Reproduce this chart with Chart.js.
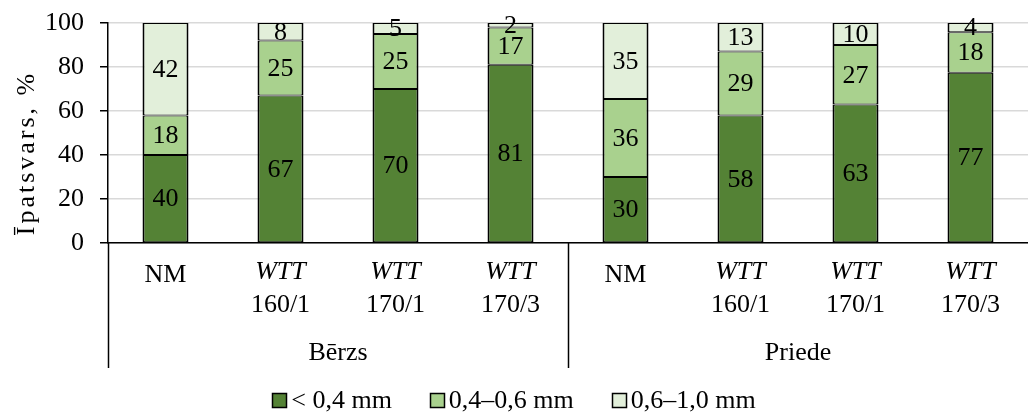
<!DOCTYPE html>
<html>
<head>
<meta charset="utf-8">
<script src="https://cdn.jsdelivr.net/npm/chart.js@4"></script>
<style>
  html, body { margin: 0; padding: 0; background: #fff; }
  #wrap { width: 1028px; height: 414px; position: relative; }
</style>
</head>
<body>
<div id="wrap"><canvas id="c" width="1028" height="414"></canvas></div>
<script>
const categories = ['NM', 'WTT 160/1', 'WTT 170/1', 'WTT 170/3', 'NM', 'WTT 160/1', 'WTT 170/1', 'WTT 170/3'];
const catLine1 = ['NM', 'WTT', 'WTT', 'WTT', 'NM', 'WTT', 'WTT', 'WTT'];
const catLine2 = ['', '160/1', '170/1', '170/3', '', '160/1', '170/1', '170/3'];
const groups = ['Bērzs', 'Priede'];
const groupSize = 4;
const seriesNames = ['< 0,4 mm', '0,4–0,6 mm', '0,6–1,0 mm'];
const fine = [40, 67, 70, 81, 30, 58, 63, 77.4];
const medium = [18, 25, 25, 17, 35.5, 29, 27, 18.4];
const coarse = [42, 8, 5, 2, 34.5, 13, 10, 4.2];
const seriesColors = ['#548235', '#A9D18E', '#E2EFDA'];
const yTicks = [0, 20, 40, 60, 80, 100];
const yTitle = 'Īpatsvars, %';

const FONT = "'Liberation Serif', 'Times New Roman', serif";
const FS = 26;

const labelPlugin = {
  id: 'customLabels',
  afterDatasetsDraw(chart) {
    const ctx = chart.ctx;
    ctx.save();
    ctx.font = FS + 'px ' + FONT;
    ctx.fillStyle = '#000';
    ctx.textAlign = 'center';
    ctx.textBaseline = 'middle';
    chart.data.datasets.forEach((ds, di) => {
      const meta = chart.getDatasetMeta(di);
      meta.data.forEach((el, i) => {
        const v = ds.data[i];
        ctx.fillText(String(Math.round(v)), el.x, (el.y + el.base) / 2 + 1);
      });
    });
    ctx.restore();
  },
  afterDraw(chart) {
    const ctx = chart.ctx;
    const xs = chart.scales.x;
    const area = chart.chartArea;
    const b = area.bottom;
    ctx.save();
    ctx.fillStyle = '#000';
    ctx.textAlign = 'center';
    ctx.textBaseline = 'middle';
    // y-axis title
    ctx.save();
    ctx.translate(27, 153);
    ctx.rotate(-Math.PI / 2);
    ctx.font = FS + 'px ' + FONT;
    if ('letterSpacing' in ctx) ctx.letterSpacing = '3px';
    ctx.fillText(yTitle, 0, 0);
    ctx.restore();
    categories.forEach((c, i) => {
      const x = xs.getPixelForValue(i);
      if (catLine2[i]) {
        ctx.font = 'italic ' + FS + 'px ' + FONT;
        ctx.fillText(catLine1[i], x, b + 29);
        ctx.font = FS + 'px ' + FONT;
        ctx.fillText(catLine2[i], x, b + 62);
      } else {
        ctx.font = FS + 'px ' + FONT;
        ctx.fillText(catLine1[i], x, b + 32);
      }
    });
    // group labels and separators
    ctx.strokeStyle = '#000';
    ctx.lineWidth = 1.5;
    const seps = [area.left];
    groups.forEach((g, gi) => {
      const first = xs.getPixelForValue(gi * groupSize);
      const last = xs.getPixelForValue(gi * groupSize + groupSize - 1);
      ctx.font = FS + 'px ' + FONT;
      ctx.fillText(g, (first + last) / 2, b + 110);
      if (gi < groups.length - 1) {
        const nxt = xs.getPixelForValue(gi * groupSize + groupSize);
        seps.push((last + nxt) / 2);
      }
    });
    seps.forEach(sx => {
      const px = Math.round(sx) + 0.5;
      ctx.beginPath();
      ctx.moveTo(px, b);
      ctx.lineTo(px, b + 125);
      ctx.stroke();
    });
    // legend
    ctx.font = FS + 'px ' + FONT;
    const box = 14, gap = 5, spacing = 38;
    const widths = seriesNames.map(n => box + gap + ctx.measureText(n).width);
    const total = widths.reduce((a, w) => a + w, 0) + spacing * (seriesNames.length - 1);
    let lx = chart.width / 2 - total / 2;
    const ly = 400;
    ctx.textAlign = 'left';
    seriesNames.forEach((n, i) => {
      const bx = Math.round(lx) + 0.5, by = Math.round(ly - box / 2) + 0.5;
      ctx.fillStyle = seriesColors[i];
      ctx.fillRect(bx, by, box, box);
      ctx.strokeStyle = '#000';
      ctx.lineWidth = 1.5;
      ctx.strokeRect(bx, by, box, box);
      ctx.fillStyle = '#000';
      ctx.fillText(n, lx + box + gap, ly + 1);
      lx += widths[i] + spacing;
    });
    ctx.restore();
  }
};

new Chart(document.getElementById('c'), {
  type: 'bar',
  data: {
    labels: categories,
    datasets: [fine, medium, coarse].map((d, i) => ({
      label: seriesNames[i],
      data: d,
      backgroundColor: seriesColors[i],
      borderColor: '#000',
      borderWidth: { top: 1, bottom: 1, left: 2, right: 2 },
      borderSkipped: false,
      categoryPercentage: 1,
      barPercentage: 0.4
    }))
  },
  options: {
    responsive: false,
    animation: false,
    layout: { padding: { top: 23, right: 0, bottom: 0, left: 0 } },
    plugins: { legend: { display: false }, tooltip: { enabled: false } },
    scales: {
      x: {
        stacked: true,
        ticks: { display: false },
        grid: { display: false },
        border: { display: true, color: '#000', width: 1.5 },
        afterFit: s => { s.height = 171; s.paddingLeft = 0; s.paddingRight = 0; }
      },
      y: {
        stacked: true,
        min: 0,
        max: 100,
        afterBuildTicks: s => { s.ticks = yTicks.map(v => ({ value: v })); },
        ticks: { color: '#000', font: { family: FONT, size: FS }, padding: 16 },
        grid: { color: '#d9d9d9', lineWidth: 1.5, tickColor: '#000', tickLength: 8 },
        border: { display: true, color: '#000', width: 1.5 },
        title: { display: false },
        afterFit: s => { s.width = 108; s.paddingTop = 0; s.paddingBottom = 0; }
      }
    }
  },
  plugins: [labelPlugin]
});
</script>
</body>
</html>
